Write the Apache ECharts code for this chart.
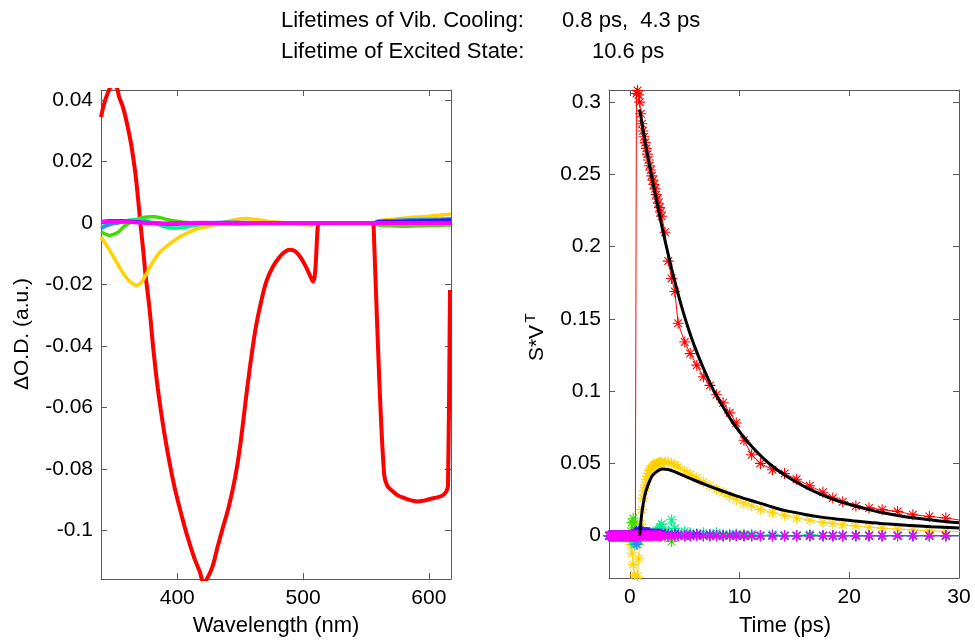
<!DOCTYPE html>
<html><head><meta charset="utf-8">
<script src="https://cdn.jsdelivr.net/npm/echarts@6/dist/echarts.min.js"></script>
<style>html,body{margin:0;padding:0;background:#fff}#c{width:975px;height:641px}</style>
</head><body><div id="c"></div>
<script>
// ---------- Left panel: spectra (wavelength nm, ΔO.D.) ----------
const RED_X = [339.4,342,345,348,351,354,357,360,363,366,368,370.7,373,374.7,378,381,384,387,390,394,398,402,406,410,414,418,421,424,428,432,436,441,446,450,456,462,467,471,476,481,485,489,494,499,503,506,508,509.5,512.3,512.8,530,556.0,556.5,560.5,564.5,567,570,575,580.6,586,591,596,601.8,606,611,614,615.2,616.8];
const RED_Y = [0.0345,0.039,0.0425,0.0445,0.0445,0.0408,0.0375,0.0325,0.0265,0.0185,0.0115,0.0,-0.009,-0.0164,-0.028,-0.041,-0.052,-0.061,-0.069,-0.0782,-0.0862,-0.0928,-0.099,-0.1045,-0.1095,-0.1135,-0.117,-0.1155,-0.1118,-0.1055,-0.0995,-0.0922,-0.0828,-0.0725,-0.0525,-0.035,-0.025,-0.0188,-0.0142,-0.0112,-0.0095,-0.0087,-0.0092,-0.0118,-0.0148,-0.0175,-0.019,-0.0165,0.0,0.0,0.0,0.0,0.0,-0.05,-0.082,-0.0855,-0.0868,-0.0885,-0.0895,-0.0902,-0.0906,-0.0903,-0.0897,-0.0893,-0.0886,-0.0872,-0.0855,-0.0218];

const YEL_X = [339.4,345,350,355,360,365,368,372,378,385,391,400,407,415,423,435,445,455,465,475,490,507,512,535,556,560,570,580,590,600,610,617.6];
const YEL_Y = [-0.0045,-0.008,-0.0115,-0.015,-0.018,-0.0198,-0.0202,-0.019,-0.0145,-0.010,-0.0077,-0.005,-0.0034,-0.002,-0.0012,0.0,0.001,0.0015,0.001,0.0004,0.0,-0.0006,0,0,0,0.0008,0.0012,0.0016,0.002,0.0022,0.0026,0.003];

const GRN_X = [339.4,343,346,350,354,358,363,368,373,378,382,387,392,397,405,415,430,450,470,490,512,535,556,560,570,580,590,600,610,617.6];
const GRN_Y = [-0.0028,-0.0036,-0.004,-0.0036,-0.0026,-0.001,0.0003,0.0012,0.0018,0.0021,0.0021,0.0017,0.0012,0.0008,0.0003,0.0,-0.0002,-0.0002,0.0,0.0,0,0,0,-0.0006,-0.0009,-0.001,-0.0009,-0.0008,-0.0007,-0.0006];

const SPR_X = [339.4,345,350,355,360,366,372,378,384,390,396,402,408,415,422,430,440,455,470,490,512,535,556,560,570,580,590,600,610,617.6];
const SPR_Y = [-0.0012,-0.0006,0.0,0.0004,0.0008,0.0011,0.001,0.0004,-0.0004,-0.0012,-0.0016,-0.0016,-0.0012,-0.0007,-0.0003,0.0,0.0002,0.0001,0.0,0.0,0,0,0,0.0004,0.0006,0.0007,0.0008,0.0008,0.0009,0.001];

const BLU_X = [339.4,343,347,352,358,365,372,380,388,396,404,412,420,430,440,450,460,470,480,490,500,512,535,556,560,570,580,590,600,610,617.6];
const BLU_Y = [-0.0018,-0.001,-0.0004,0.0,0.0004,0.0005,0.0003,0.0,-0.0003,-0.0004,-0.0003,-0.0001,0.0,0.0002,0.0003,0.0002,0.0001,0.0,-0.0001,0.0,0.0,0,0,0,0.0006,0.0008,0.001,0.0011,0.0012,0.0013,0.0014];
const PUR_Y = [0.0004,0.0006,0.0008,0.0008,0.0007,0.0005,0.0003,0.0001,-0.0001,-0.0002,-0.0001,0.0,0.0001,0.0001,0.0,-0.0001,0.0,0.0,0.0,0.0,0.0,0,0,0,0.0004,0.0005,0.0006,0.0007,0.0008,0.0009,0.001];

const MAG_X = [339.4,350,360,370,380,390,400,420,440,460,480,500,512,535,556,570,590,617.6];
const MAG_Y = [0.0004,0.0005,0.0004,0.0002,0.0,-0.0001,0.0,0.0001,0.0,0.0,0.0,0.0,0,0,0,0.0,0.0,0.0];

// ---------- Right panel: kinetics (time ps, S*V^T) ----------
const T = [-2.0,-1.9,-1.8,-1.7,-1.6,-1.5,-1.4,-1.3,-1.2,-1.1,-1.0,-0.9,-0.8,-0.7,-0.6,-0.5,-0.4,-0.3,-0.2,-0.1,
  0.0,0.1,0.2,0.3,0.4,0.5,0.6,0.7,0.8,0.9,1.0,1.1,1.2,1.3,1.4,1.5,1.6,1.7,1.8,1.9,2.0,2.1,2.2,2.3,2.4,2.5,2.6,2.7,2.8,2.9,
  3.2,3.5,3.8,4.1,4.4,5.0,5.5,6.1,6.7,7.3,7.9,8.5,9.1,9.7,10.4,11.1,11.9,
  13.0,14.1,15.2,16.4,17.6,18.5,19.4,20.6,21.8,23.0,24.4,25.8,27.3,28.8,30.3];
const K_RED = [0,0,0,0,0,0,0,0,0,0,0,0,0,0,0,0,0,0,0,0,
  0,0,0,0,0,0.002,0.306,0.308,0.305,0.300,0.292,0.285,0.280,0.276,0.272,0.268,0.264,0.260,0.256,0.253,0.249,0.246,0.243,0.240,0.236,0.233,0.230,0.227,0.224,0.221,
  0.210,0.190,0.178,0.169,0.147,0.134,0.126,0.118,0.110,0.104,0.0975,0.092,0.085,0.078,0.066,0.056,0.050,
  0.0456,0.043,0.039,0.0345,0.030,0.026,0.0235,0.0205,0.0192,0.018,0.0168,0.0145,0.0133,0.0122,0.0105];
const K_YEL = [0,0,0,0,0,0,0,0,0,0,0,0,0,0,0,0,0,0,0,0,
  -0.002,-0.006,-0.012,-0.02,-0.027,-0.033,-0.034,-0.028,-0.016,-0.004,0.008,0.018,0.026,0.031,0.035,0.039,0.041,0.043,0.045,0.046,0.047,0.048,0.0485,0.049,0.0495,0.050,0.0502,0.0505,0.0507,0.0508,
  0.051,0.0508,0.0503,0.049,0.0475,0.0448,0.0425,0.040,0.0372,0.0347,0.0322,0.0298,0.0272,0.0248,0.0225,0.0205,0.0182,
  0.0158,0.0142,0.0122,0.0107,0.0093,0.0085,0.0076,0.0066,0.0058,0.0052,0.0045,0.004,0.0033,0.003,0.0027];
const K_GRN = [0,0,0,0,0,0,0,0,0,0,0,0,0,0,0,0,0,0,0,0,
  0,0.003,0.009,0.012,0.008,0.002,-0.004,-0.006,-0.003,0.0,0.001,0.002,0.002,0.001,0.001,0.0,0.001,0.0,0.0,0.001,0.0,0.001,0.0,0.0,0.001,0.0,0.0,0.002,0.001,0.0,
  -0.001,0.0,-0.004,0.0,0.001,0.0,0.0,0.001,0.0,0.0,0.001,0.0,0.0,0.0,0.001,0.0,0.0,
  0,0,0,0,0,0,0,0,0,0,0,0,0,0,0];
const K_SPR = [0,0,0,0,0,0,0,0,0,0,0,0,0,0,0,0,0,0,0,0,
  0,0,-0.002,-0.004,-0.006,-0.005,-0.003,-0.002,0.0,0.001,0.001,0.0,0.0,0.001,0.001,0.001,0.002,0.001,0.002,0.001,0.001,0.002,0.001,0.002,0.002,0.003,0.004,0.005,0.006,0.008,
  0.004,0.002,0.011,0.005,0.002,0.003,0.002,0.001,0.002,0.001,0.002,0.001,0.001,0.001,0.0,0.001,0.0,
  0.001,0,0,0.001,0,0,0,0,0,0,0,0,0,0,0];
const K_BLU = [0,0,0,0,0,0,0,0,0,0,0,0,0,0,0,0,0,0,0,0,
  0,0,0,0,0,-0.004,-0.006,-0.003,0.002,0.003,0.003,0.002,0.002,0.002,0.002,0.002,0.001,0.001,0.001,0.001,0.001,0.001,0.001,0.001,0.001,0.001,0.001,0.001,0.0,0.001,
  0.001,0.0,0.001,0.0,0.001,0.0,0.001,0.0,0.0,0.001,0.0,0.0,0.0,0.001,0.0,0.0,0.0,
  0,0,0,0,0,0,0,0,0,0,0,0,0,0,0];
const K_PUR = [0,0,0,0,0,0,0,0,0,0,0,0,0,0,0,0,0,0,0,0,
  0,0,0,0,0,0.002,0.003,0.002,0.003,0.002,0.002,0.003,0.003,0.002,0.002,0.002,0.002,0.002,0.002,0.001,0.001,0.001,0.001,0.001,0.001,0.001,0.001,0.001,0.001,0.001,
  0.001,0.001,0.0,0.001,0.0,0.0,0.0,0.001,0.0,0.0,0.0,0.0,0.0,0.0,0.0,0.0,0.0,
  0,0,0,0,0,0,0,0,0,0,0,0,0,0,0];
const K_MAG = [0,0,0,0,0,0,0,0,0,0,0,0,0,0,0,0,0,0,0,0,
  0,0,0,0,0,0,0,0,0,0,0,0,0,0,0,0,0,0,0,0,0,0,0,0,0,0,0,0,0,0,
  0,0,0,0,0,0,0,0,0,0,0,0,0,0,0,0,0,
  0,0,0,0,0,0,0,0,0,0,0,0,0,0,0];

const FIT1_T = [0.9,1.2,1.5,1.8,2.1,2.4,2.7,3.0,3.3,3.8,4.2,4.7,5.3,5.9,6.7,7.6,8.5,9.4,10.3,11.2,12.1,13.0,14.2,15.8,17.3,18.8,20.3,21.8,23.3,24.8,26.4,28.2,30.0];
const FIT1_V = [0.295,0.281,0.268,0.256,0.244,0.233,0.222,0.211,0.201,0.185,0.173,0.159,0.144,0.131,0.116,0.101,0.089,0.078,0.069,0.061,0.054,0.048,0.0415,0.0345,0.029,0.0245,0.021,0.018,0.0155,0.0135,0.0118,0.0102,0.0090];
const FIT2_T = [0.9,1.0,1.1,1.2,1.4,1.7,2.0,2.3,2.7,3.0,3.5,4.0,4.9,6.0,7.0,8.2,9.1,10.0,11.2,13.0,14.2,16.1,17.3,19.1,20.3,22.1,23.3,25.2,27.5,30.0];
const FIT2_V = [0.0,0.009,0.016,0.021,0.029,0.036,0.041,0.0435,0.0455,0.0462,0.0458,0.0445,0.0415,0.038,0.035,0.0316,0.0292,0.0268,0.0240,0.0198,0.0173,0.0145,0.0130,0.0113,0.0103,0.0090,0.0082,0.0072,0.0062,0.0053];

// ---------- Tick values ----------
const WL_TICKS = [400,500,600];
const OD_TICKS = [-0.1,-0.08,-0.06,-0.04,-0.02,0,0.02,0.04];
const T_TICKS = [0,10,20,30];
const SV_TICKS = [0,0.05,0.1,0.15,0.2,0.25,0.3];

// ---------- Styling ----------
const FONT = '"Liberation Sans", Arial, sans-serif';
const AX = '#5a5a5a';
const COLORS = {red:'#ff0000', yel:'#ffd200', grn:'#3fdc00', spr:'#00f08a', blu:'#2a8cff', pur:'#3a10ff', mag:'#ff00ff'};
const STAR = 'path://M0,-10L0,10M-10,0L10,0M-7,-7L7,7M-7,7L7,-7';

const zip = (a, b) => a.map((v, i) => [v, b[i]]);
const fmt = v => String(Math.round(v * 1000) / 1000);

function xAx(grid, pos, min, max, ticks, labels) {
  return {
    gridIndex: grid, type: 'value', position: pos, min: min, max: max,
    axisLine: {show: true, onZero: false, lineStyle: {color: AX, width: 1}},
    axisTick: {show: true, inside: true, length: 6, customValues: ticks, lineStyle: {color: AX, width: 1}},
    axisLabel: {show: labels, customValues: ticks, margin: 9, color: '#000', fontSize: 21, fontFamily: FONT, formatter: fmt},
    splitLine: {show: false}
  };
}
function yAx(grid, pos, min, max, ticks, labels) {
  return {
    gridIndex: grid, type: 'value', position: pos, min: min, max: max,
    axisLine: {show: true, onZero: false, lineStyle: {color: AX, width: 1}},
    axisTick: {show: true, inside: true, length: 6, customValues: ticks, lineStyle: {color: AX, width: 1}},
    axisLabel: {show: labels, customValues: ticks, margin: 8, color: '#000', fontSize: 21, fontFamily: FONT, formatter: fmt},
    splitLine: {show: false}
  };
}

function specLine(xs, ys, color, width, z) {
  return {type: 'line', xAxisIndex: 0, yAxisIndex: 0, data: zip(xs, ys), showSymbol: false, symbol: 'none',
    smooth: 0.35,
    lineStyle: {color: color, width: width}, z: z, clip: true, silent: true, emphasis: {disabled: true}, animation: false};
}
function kinLine(ys, color, z) {
  return {type: 'line', xAxisIndex: 2, yAxisIndex: 2, data: zip(T, ys), showSymbol: true, symbol: STAR, symbolSize: 11,
    itemStyle: {color: color, borderColor: color, borderWidth: 1.1},
    lineStyle: {color: color, width: 1}, z: z, clip: true, silent: true, emphasis: {disabled: true}, animation: false};
}
function fitLine(xs, ys) {
  return {type: 'line', xAxisIndex: 2, yAxisIndex: 2, data: zip(xs, ys), showSymbol: false, symbol: 'none', smooth: 0.3,
    lineStyle: {color: '#000', width: 3}, z: 20, clip: true, silent: true, emphasis: {disabled: true}, animation: false};
}

const L = {min: 339.4, max: 617.6, ymin: -0.1158, ymax: 0.0433};
const R = {min: -1.9, max: 30, ymin: -0.0293, ymax: 0.3084};

const txt = (x, y, s, size, align, rot) => ({type: 'text', x: x, y: y, rotation: rot || 0,
  style: {text: s, fill: '#000', font: size + 'px ' + FONT, textAlign: align || 'left', textVerticalAlign: 'middle'}, silent: true});

const option = {
  animation: false,
  backgroundColor: '#fff',
  grid: [
    {left: 101, top: 90, width: 350, height: 489},
    {left: 609, top: 90, width: 350, height: 488}
  ],
  xAxis: [
    xAx(0, 'bottom', L.min, L.max, WL_TICKS, true),
    xAx(0, 'top', L.min, L.max, WL_TICKS, false),
    xAx(1, 'bottom', R.min, R.max, T_TICKS, true),
    xAx(1, 'top', R.min, R.max, T_TICKS, false)
  ],
  yAxis: [
    yAx(0, 'left', L.ymin, L.ymax, OD_TICKS, true),
    yAx(0, 'right', L.ymin, L.ymax, OD_TICKS, false),
    yAx(1, 'left', R.ymin, R.ymax, SV_TICKS, true),
    yAx(1, 'right', R.ymin, R.ymax, SV_TICKS, false)
  ],
  series: [
    specLine(RED_X, RED_Y, COLORS.red, 4, 2),
    specLine(YEL_X, YEL_Y, COLORS.yel, 3.5, 3),
    specLine(GRN_X, GRN_Y, COLORS.grn, 3.5, 4),
    specLine(SPR_X, SPR_Y, COLORS.spr, 3.5, 5),
    specLine(BLU_X, BLU_Y, COLORS.blu, 3.5, 6),
    specLine(BLU_X, PUR_Y, COLORS.pur, 3.5, 7),
    specLine(MAG_X, MAG_Y, COLORS.mag, 4, 8),
    kinLine(K_RED, COLORS.red, 2),
    kinLine(K_YEL, COLORS.yel, 3),
    kinLine(K_GRN, COLORS.grn, 4),
    kinLine(K_SPR, COLORS.spr, 5),
    kinLine(K_BLU, COLORS.blu, 6),
    kinLine(K_PUR, COLORS.pur, 7),
    kinLine(K_MAG, COLORS.mag, 8),
    fitLine(FIT1_T, FIT1_V),
    fitLine(FIT2_T, FIT2_V)
  ],
  graphic: [
    txt(281, 21, 'Lifetimes of Vib. Cooling:', 22),
    txt(562, 21, '0.8 ps,  4.3 ps', 22),
    txt(281, 52, 'Lifetime of Excited State:', 22),
    txt(592, 52, '10.6 ps', 22),
    txt(276, 626, 'Wavelength (nm)', 22, 'center'),
    txt(785, 626, 'Time (ps)', 22, 'center'),
    txt(22, 334, 'ΔO.D. (a.u.)', 21, 'center', Math.PI / 2),
    txt(537, 343, 'S*V', 21, 'center', Math.PI / 2),
    txt(531, 318, 'T', 15, 'center', Math.PI / 2)
  ]
};

const chart = echarts.init(document.getElementById('c'), null, {renderer: 'canvas'});
chart.setOption(option);
</script>
</body></html>
